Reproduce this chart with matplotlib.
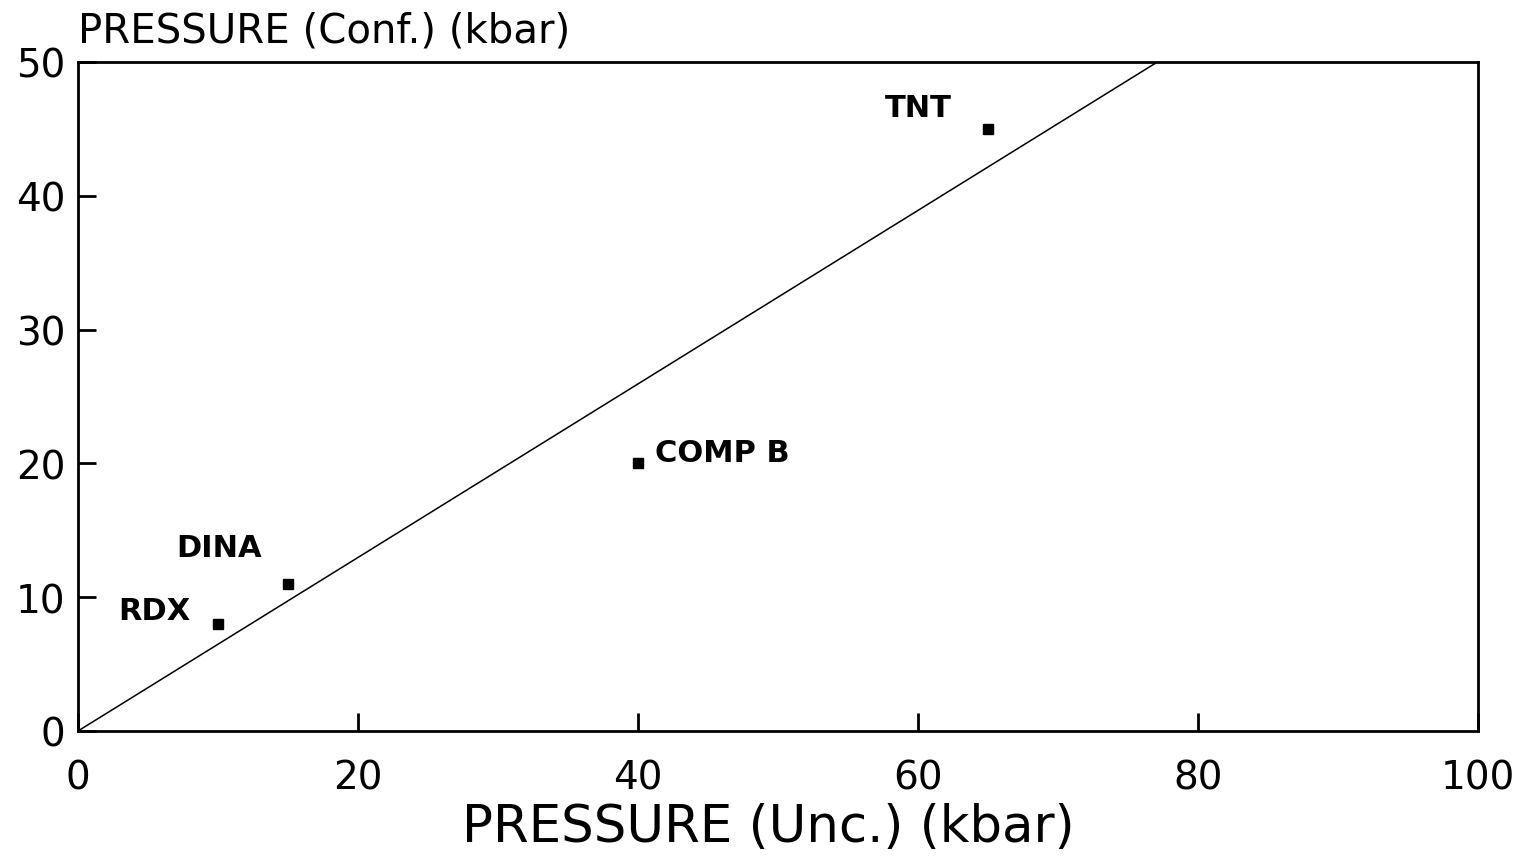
import numpy as np
import matplotlib.pyplot as plt

# explosive: unconfined vs confined pressure (kbar)
names = ["RDX", "DINA", "COMP B", "TNT"]
p_unc = [10, 15, 40, 65]
p_conf = [8, 11, 20, 45]

# where each name is written (data coords, left/baseline)
lab_x = [2.9, 7.0, 41.2, 57.6]
lab_y = [8.4, 13.1, 20.2, 46.0]

# reference line through the origin
line_x = [0, 77.1]
line_y = [0, 50]

plt.rcParams['font.family'] = ['DejaVu Sans']

fig = plt.figure(figsize=(15.14, 8.62), dpi=100)
ax = fig.add_axes([78/1514, 130/862, 1400/1514, 669/862])

ax.plot(line_x, line_y, color='black', lw=1.1)
ax.plot(p_unc, p_conf, 's', color='black', markersize=6.5)

for n, x, y in zip(names, lab_x, lab_y):
    ax.text(x, y, n, fontsize=22, fontweight='bold', ha='left', va='baseline')

ax.set_xlim(0, 100)
ax.set_ylim(0, 50)
ax.set_xticks([0, 20, 40, 60, 80, 100])
ax.set_yticks([0, 10, 20, 30, 40, 50])
ax.tick_params(axis='x', direction='in', length=13, width=2, labelsize=28, pad=20)
ax.tick_params(axis='y', direction='in', length=13, width=2, labelsize=28, pad=9)
for s in ax.spines.values():
    s.set_linewidth(2)

fig.text(768/1514, 20/862, "PRESSURE (Unc.) (kbar)", fontsize=37, ha='center', va='baseline')
fig.text(78/1514, (862-42)/862, "PRESSURE (Conf.) (kbar)", fontsize=29, ha='left', va='baseline')

fig.savefig("out.png", dpi=100)
